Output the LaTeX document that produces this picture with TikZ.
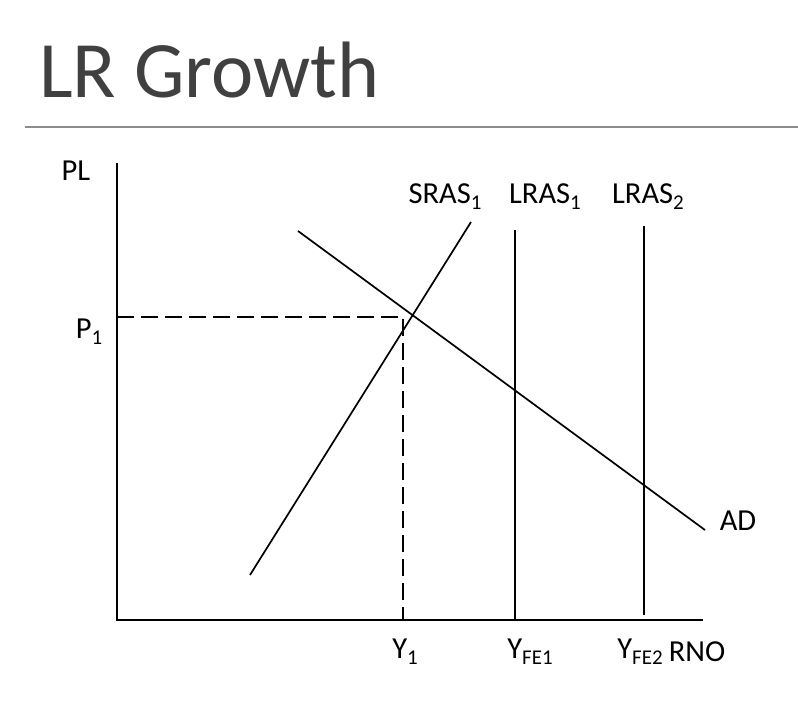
\documentclass[tikz,border=0pt]{standalone}
\usepackage{fontspec}
\setmainfont{Carlito}
\definecolor{titlegray}{HTML}{404040}
\definecolor{rulegray}{HTML}{8C8C8C}
\newcommand{\lsub}[1]{\raisebox{-0.2em}{\fontsize{21}{21}\selectfont #1}}
\begin{document}
\begin{tikzpicture}[x=1pt,y=-1pt,
  axis/.style={line width=2pt,black},
  curve/.style={line width=1.7pt,black},
  guide/.style={line width=1.7pt,black,dash pattern=on 17pt off 7pt},
  lbl/.style={font=\fontsize{30.5}{30.5}\selectfont,inner sep=0pt,text=black}]
\useasboundingbox (0,0) rectangle (798,714);
\fill[white] (0,0) rectangle (798,714);
% title
\node[anchor=base west,inner sep=0pt,text=titlegray,font=\fontsize{80}{80}\selectfont] (title) at (39,98) {LR Growth};
\coordinate (rl) at (25,127);
\coordinate (rr) at (798,127);
\draw[rulegray,line width=1.3pt] (rl) -- (rr);
% axes
\coordinate (ytop) at (117,163);
\coordinate (orig) at (117,620);
\coordinate (xend) at (703,620);
\draw[axis] (ytop) -- (orig) -- (xend);
% curves
\coordinate (s1) at (250,575);
\coordinate (s2) at (471,222);
\draw[curve] (s1) -- (s2);
\coordinate (a1) at (298,231);
\coordinate (a2) at (705,530);
\draw[curve] (a1) -- (a2);
\coordinate (l1t) at (515,230);
\coordinate (l1b) at (515,620);
\draw[curve] (l1t) -- (l1b);
\coordinate (l2t) at (644,226);
\coordinate (l2b) at (644,615);
\draw[curve] (l2t) -- (l2b);
% guides
\coordinate (p1l) at (117,317);
\coordinate (eq) at (403,317);
\coordinate (y1b) at (403,620);
\draw[guide] (p1l) -- (eq) -- (y1b);
% labels
\node[lbl] (PL) at (76,171) {PL};
\node[lbl] (P1) at (89,332) {P\lsub{1}};
\node[lbl] (SRAS) at (445,197) {SRAS\lsub{1}};
\node[lbl] (LRAS1) at (545,197) {LRAS\lsub{1}};
\node[lbl] (LRAS2) at (648,197) {LRAS\lsub{2}};
\node[lbl] (AD) at (738,521) {AD};
\node[lbl] (Y1) at (405,652) {Y\lsub{1}};
\node[lbl] (YFE1) at (530,652) {Y\lsub{FE1}};
\node[lbl] (YFE2) at (640,652) {Y\lsub{FE2}};
\node[lbl] (RNO) at (697,652) {RNO};
\end{tikzpicture}
\end{document}
